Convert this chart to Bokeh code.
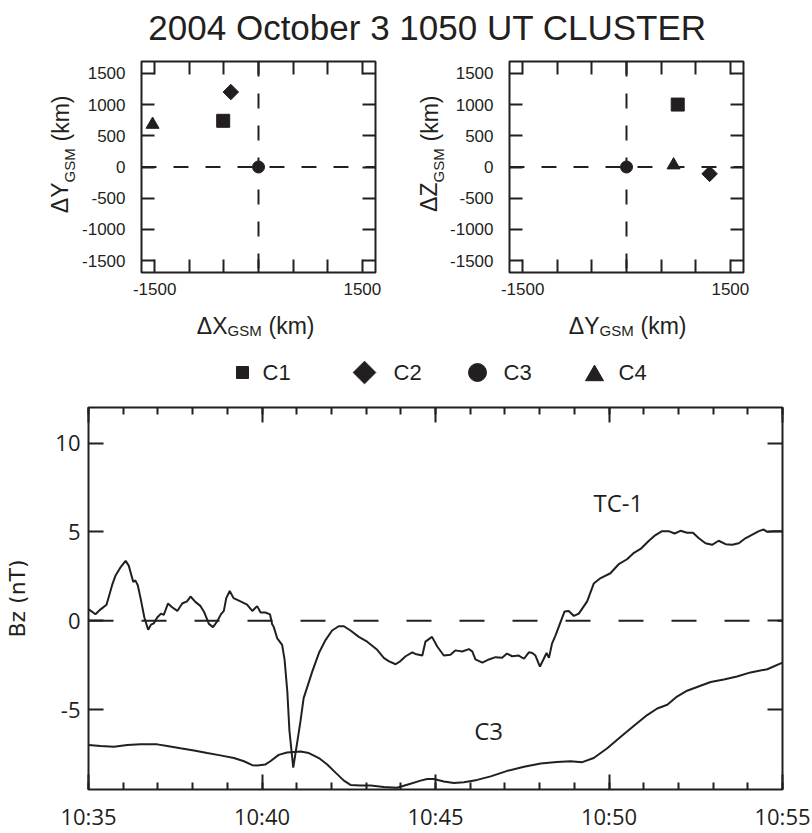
import math
from datetime import datetime, timedelta

from bokeh.plotting import figure
from bokeh.models import (FixedTicker, LinearAxis, DatetimeAxis, DatetimeTickFormatter,
                          Span, Label, Range1d)
from bokeh.core.properties import value
from bokeh.layouts import column, row
from bokeh.embed import file_html
from bokeh.resources import INLINE

# ---------------- data ----------------
TITLE = "2004 October 3 1050 UT CLUSTER"
spacecraft = ["C1", "C2", "C3", "C4"]
dx_gsm = [-510, -400, 0, -1530]      # km, relative to C3
dy_gsm = [740, 1200, 0, 680]
dz_gsm = [1000, -110, 0, 30]
pos_ticks = [-1500, -1000, -500, 0, 500, 1000, 1500]

# minutes after 10:35 UT, Bz in nT
tc1_minutes = [0.01, 0.2, 0.35, 0.52, 0.68, 0.78, 0.92, 1.07, 1.16, 1.29, 1.35, 1.42, 1.5, 1.61,
               1.72, 1.8, 1.88, 1.98, 2.09, 2.17, 2.29, 2.41, 2.56, 2.7, 2.84, 2.94, 3.08, 3.23,
               3.34, 3.47, 3.59, 3.71, 3.82, 3.9, 3.97, 4.07, 4.18, 4.38, 4.57, 4.72, 4.86, 4.96,
               5.1, 5.23, 5.29, 5.34, 5.44, 5.58, 5.65, 5.73, 5.79, 5.9, 6.01, 6.11, 6.2, 6.32,
               6.44, 6.64, 6.83, 7.02, 7.21, 7.36, 7.55, 7.79, 8.03, 8.32, 8.51, 8.65, 8.85, 8.99,
               9.14, 9.33, 9.42, 9.62, 9.71, 9.9, 10.05, 10.24, 10.43, 10.57, 10.77, 10.96, 11.06,
               11.15, 11.35, 11.54, 11.73, 11.92, 12.06, 12.21, 12.4, 12.55, 12.69, 12.79, 12.88,
               13.01, 13.11, 13.2, 13.27, 13.36, 13.46, 13.6, 13.72, 13.84, 13.99, 14.13, 14.37,
               14.56, 14.76, 15.04, 15.28, 15.52, 15.72, 15.91, 16.15, 16.34, 16.53, 16.72, 16.89,
               17.06, 17.25, 17.42, 17.59, 17.78, 17.97, 18.16, 18.36, 18.55, 18.74, 18.93, 19.13,
               19.32, 19.46, 19.56, 19.75, 20.0]
tc1_bz = [0.64, 0.36, 0.64, 0.9, 2.0, 2.55, 3.0, 3.37, 3.1, 2.18, 2.27, 2.0, 1.27, 0.18,
          -0.51, -0.22, -0.15, 0.18, 0.4, 0.33, 0.97, 0.76, 0.55, 0.97, 1.09, 1.36, 1.06, 0.82,
          0.46, -0.18, -0.36, -0.03, 0.37, 0.55, 1.27, 1.67, 1.27, 1.09, 0.91, 0.55, 0.82, 0.46,
          0.46, 0.36, -0.18, -0.36, -1.0, -1.36, -2.18, -4.0, -6.18, -8.27, -6.9, -5.64, -4.36, -3.64,
          -2.91, -1.82, -1.09, -0.55, -0.31, -0.31, -0.55, -0.91, -1.18, -1.64, -2.09, -2.27, -2.45, -2.27,
          -2.0, -1.78, -1.87, -1.96, -1.18, -0.91, -1.45, -1.96, -1.91, -1.67, -1.73, -1.6, -1.73,
          -2.18, -2.36, -2.18, -2.05, -2.09, -1.85, -2.0, -1.96, -2.14, -1.78, -1.82, -1.96,
          -2.58, -2.18, -1.82, -2.09, -1.27, -0.82, -0.09, 0.52, 0.55, 0.27, 0.4, 1.09,
          2.09, 2.4, 2.67, 3.18, 3.46, 3.82, 4.04, 4.5, 4.82, 5.04, 5.04, 4.91,
          5.06, 4.95, 4.95, 4.64, 4.36, 4.27, 4.5, 4.31, 4.27, 4.36, 4.64, 4.85,
          5.04, 5.13, 5.0, 5.04, 5.04]

c3_minutes = [0.0, 0.35, 0.73, 1.12, 1.5, 1.98, 2.27, 2.65, 3.04, 3.42, 3.8, 4.19, 4.48, 4.72,
              4.86, 5.1, 5.24, 5.48, 5.72, 6.11, 6.35, 6.64, 6.88, 7.12, 7.36, 7.55, 7.84, 8.13,
              8.51, 8.89, 9.28, 9.57, 9.76, 9.95, 10.24, 10.53, 10.82, 11.2, 11.59, 12.07, 12.55,
              13.03, 13.5, 13.89, 14.23, 14.56, 14.95, 15.33, 15.72, 16.1, 16.39, 16.68, 16.96,
              17.25, 17.54, 17.93, 18.31, 18.69, 19.08, 19.56, 20.0]
c3_bz = [-7.0, -7.05, -7.09, -7.0, -6.95, -6.96, -7.05, -7.18, -7.31, -7.45, -7.58, -7.73, -7.91, -8.13,
         -8.15, -8.09, -7.91, -7.55, -7.42, -7.36, -7.45, -7.73, -8.09, -8.55, -9.0, -9.24, -9.27, -9.27,
         -9.36, -9.4, -9.18, -9.0, -8.91, -8.91, -9.05, -9.14, -9.09, -8.96, -8.76, -8.45, -8.22,
         -8.04, -7.95, -7.91, -7.96, -7.73, -7.18, -6.55, -5.91, -5.31, -4.94, -4.73, -4.27,
         -3.94, -3.73, -3.45, -3.31, -3.14, -2.91, -2.73, -2.36]
bz_ticks = [-5, 0, 5, 10]
series_labels = [("TC-1", 15.27, 6.64), ("C3", 11.53, -6.18)]

# ---------------- style ----------------
INK = "#231f20"
TOP_FONT = "Liberation Sans"
BOT_FONT = "Open Sans"
LIM = 1690
MARKERS = {
    "C1": dict(marker="square", size=13, angle=0.0),
    "C2": dict(marker="square", size=11, angle=math.pi / 4),
    "C3": dict(marker="circle", size=12, angle=0.0),
    "C4": dict(marker="triangle", size=13, angle=0.0),
}
# legend layout in page pixels: glyph centre, glyph size, label start
LEGEND_LAYOUT = {
    "C1": dict(gx=242, gy=372, size=12, tx=262),
    "C2": dict(gx=364, gy=372, size=16, tx=393),
    "C3": dict(gx=477, gy=372, size=18, tx=503),
    "C4": dict(gx=594, gy=375, size=18, tx=618),
}
T0 = datetime(2004, 10, 3, 10, 35)
EPOCH = datetime(1970, 1, 1)


def to_ms(t):
    return (t - EPOCH).total_seconds() * 1000.0


def style_axis(ax, ticks, tick_len, font, font_size, standoff, show_labels=True,
               overrides=None, minor=None, minor_len=0):
    ax.ticker = FixedTicker(ticks=ticks, minor_ticks=minor or [])
    ax.axis_line_color = None
    ax.major_tick_in = tick_len
    ax.major_tick_out = 0
    ax.major_tick_line_width = 2
    ax.major_tick_line_color = INK
    ax.minor_tick_in = minor_len
    ax.minor_tick_out = 0
    ax.minor_tick_line_width = 2
    ax.minor_tick_line_color = INK
    ax.major_label_text_font = font
    if show_labels:
        ax.major_label_text_color = INK
        ax.major_label_text_font_size = font_size
        ax.major_label_standoff = standoff
    else:
        ax.major_label_text_color = None
        ax.major_label_text_font_size = "1px"
        ax.major_label_standoff = 0
    if overrides:
        ax.major_label_overrides = overrides


def strip(width, height, xr, yr, borders=(0, 0, 0, 0)):
    """empty figure used as a canvas for page texts; data units = page pixels"""
    left, right, top, bottom = borders
    p = figure(width=width, height=height, x_range=Range1d(*xr), y_range=Range1d(*yr),
               x_axis_location=None, y_axis_location=None, output_backend="svg",
               toolbar_location=None, min_border_left=left, min_border_right=right,
               min_border_top=top, min_border_bottom=bottom)
    p.grid.visible = False
    p.outline_line_color = None
    return p


def txt(p, x, y, s, size, align, font=TOP_FONT, angle=0.0):
    p.text(x=[x], y=[y], text=[s], angle=angle, text_align=align, text_baseline="middle",
           text_font=value(font), text_font_size=value(size), text_color=INK)


def sub_label(p, main, split, mid, vertical):
    """'main' + subscript GSM + '(km)'; page-pixel coordinates (y grows downward)"""
    if vertical:
        a = math.pi / 2
        txt(p, mid, split, main, "23px", "right", angle=a)
        txt(p, mid + 9.5, split, "GSM", "15px", "left", angle=a)
        txt(p, mid + 1, split - 41, "(km)", "23px", "left", angle=a)
    else:
        txt(p, split, mid, main, "23px", "right")
        txt(p, split, mid + 5, "GSM", "15px", "left")
        txt(p, split + 41, mid, "(km)", "23px", "left")


def make_panel(xs, ys, width, b_left, b_right):
    p = figure(width=width, height=255, x_range=Range1d(-LIM, LIM), y_range=Range1d(-LIM, LIM),
               output_backend="svg", toolbar_location=None,
               min_border_left=b_left, min_border_right=b_right,
               min_border_top=11, min_border_bottom=33)
    p.grid.visible = False
    p.outline_line_color = INK
    p.outline_line_width = 2
    p.add_layout(Span(location=0, dimension="width", line_dash="15 17", line_width=2, line_color=INK))
    p.add_layout(Span(location=0, dimension="height", line_dash="15 17", line_width=2, line_color=INK))
    for name, x, y in zip(spacecraft, xs, ys):
        st = MARKERS[name]
        p.scatter([x], [y], marker=st["marker"], size=st["size"], angle=st["angle"],
                  fill_color=INK, line_color=INK)
    xlab = {t: (str(t) if abs(t) == 1500 else "") for t in pos_ticks}
    ylab = {t: str(t) for t in pos_ticks}
    style_axis(p.xaxis[0], pos_ticks, 13, TOP_FONT, "17px", 10, overrides=xlab)
    style_axis(p.yaxis[0], pos_ticks, 13, TOP_FONT, "17px", 16, overrides=ylab)
    top = LinearAxis()
    style_axis(top, pos_ticks, 13, TOP_FONT, "17px", 0, show_labels=False)
    right = LinearAxis()
    style_axis(right, pos_ticks, 13, TOP_FONT, "17px", 0, show_labels=False)
    p.add_layout(top, "above")
    p.add_layout(right, "right")
    return p


# ---------------- title strip (page y 0..50) ----------------
title_fig = strip(812, 50, (88, 782), (50, 0), borders=(88, 30, 0, 0))
txt(title_fig, 427, 27, TITLE, "35px", "center")

# ---------------- position panels (page y 50..305) ----------------
yl1 = strip(79, 255, (0, 79), (272, 61), borders=(0, 0, 11, 33))
sub_label(yl1, "ΔY", 182, 59.5, vertical=True)
p1 = make_panel(dx_gsm, dy_gsm, 327, 60, 31)
yl2 = strip(41, 255, (406, 447), (272, 61), borders=(0, 0, 11, 33))
sub_label(yl2, "ΔZ", 182, 428, vertical=True)
p2 = make_panel(dy_gsm, dz_gsm, 365, 60, 69)

# ---------------- x labels + legend strip (page y 305..395) ----------------
mid = strip(812, 90, (88, 782), (395, 305), borders=(88, 30, 0, 0))
sub_label(mid, "ΔX", 227, 325, vertical=False)
sub_label(mid, "ΔY", 599, 325, vertical=False)
for name in spacecraft:
    st = MARKERS[name]
    lay = LEGEND_LAYOUT[name]
    mid.scatter([lay["gx"]], [lay["gy"]], marker=st["marker"], size=lay["size"], angle=st["angle"],
                fill_color=INK, line_color=INK)
    txt(mid, lay["tx"], 372, name, "22px", "left")

# ---------------- Bz time series (page y 395..833) ----------------
t_end = T0 + timedelta(minutes=20)
p3 = figure(width=812, height=438, x_axis_type="datetime", x_range=Range1d(T0, t_end),
            y_range=Range1d(-9.5, 12), output_backend="svg", toolbar_location=None,
            min_border_left=88, min_border_right=30, min_border_top=12, min_border_bottom=32)
p3.grid.visible = False
p3.outline_line_color = INK
p3.outline_line_width = 2
p3.add_layout(Span(location=0, dimension="width", line_dash="25 28", line_width=2, line_color=INK))
p3.line([T0 + timedelta(minutes=m) for m in tc1_minutes], tc1_bz, line_width=2, line_color=INK)
p3.line([T0 + timedelta(minutes=m) for m in c3_minutes], c3_bz, line_width=2, line_color=INK)
for text, m, v in series_labels:
    p3.add_layout(Label(x=to_ms(T0 + timedelta(minutes=m)), y=v, text=text, text_align="center",
                        text_baseline="middle", text_font=BOT_FONT, text_font_size="24px",
                        text_color=INK))

major_t = [to_ms(T0 + timedelta(minutes=k)) for k in range(0, 21, 5)]
minor_t = [to_ms(T0 + timedelta(minutes=k)) for k in range(0, 21)]
fmt = DatetimeTickFormatter(minutes="%H:%M", hourmin="%H:%M", hours="%H:%M", minsec="%H:%M")
xb = p3.xaxis[0]
style_axis(xb, major_t, 15, BOT_FONT, "22px", 11, minor=minor_t, minor_len=7)
xb.formatter = fmt
xt = DatetimeAxis()
style_axis(xt, major_t, 15, BOT_FONT, "22px", 0, show_labels=False, minor=minor_t, minor_len=7)
xt.formatter = fmt
p3.add_layout(xt, "above")
yl = p3.yaxis[0]
style_axis(yl, bz_ticks, 15, BOT_FONT, "22px", 8, overrides={t: str(t) for t in bz_ticks})
yl.axis_label = "Bz (nT)"
yl.axis_label_text_font = "DejaVu Sans"
yl.axis_label_text_font_size = "22px"
yl.axis_label_text_font_style = "normal"
yl.axis_label_text_color = INK
yl.axis_label_standoff = 22
yr = LinearAxis()
style_axis(yr, bz_ticks, 15, BOT_FONT, "22px", 0, show_labels=False)
p3.add_layout(yr, "right")

layout = column(title_fig, row(yl1, p1, yl2, p2), mid, p3)
open("out.html", "w").write(file_html(layout, INLINE))
